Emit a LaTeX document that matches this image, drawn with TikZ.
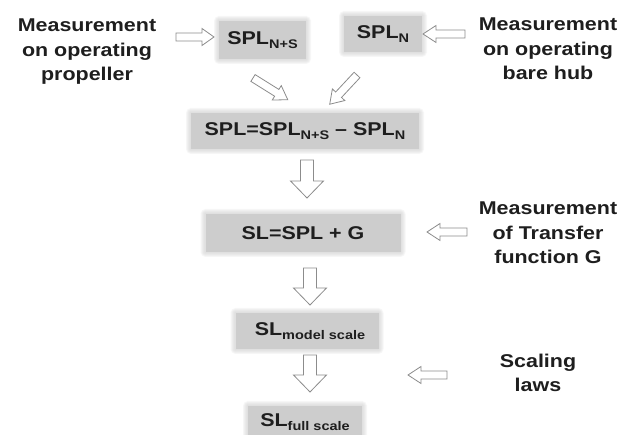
\documentclass[tikz,border=0pt]{standalone}
\usepackage{fontspec}
\setmainfont{Liberation Sans}[FakeStretch=1.16]
\definecolor{boxgray}{HTML}{CDCDCD}
\definecolor{arrowgray}{HTML}{8C8C8C}
\definecolor{ink}{HTML}{1E1E1E}
\pgfdeclarelayer{background}
\pgfsetlayers{background,main}
\newcommand\sub[1]{\raisebox{-0.22em}{\fontsize{12.5}{12.5}\selectfont #1}}
\newcommand\blockarrow[6]{%
  \draw[hollowarrow, shift={(#1)}, rotate=#2]
    (0,-#5) -- ({#3-#6},-#5) -- ({#3-#6},-#4) -- (#3,0) -- ({#3-#6},#4)
    -- ({#3-#6},#5) -- (0,#5) -- cycle;}
\newcommand\softedge[1]{%
  \begin{pgfonlayer}{background}
  \foreach \i in {1,2,3,4,5}{
    \fill[boxgray, opacity=0.16, rounded corners=\i]
      ([shift={(-\i,-\i)}]#1.south west) rectangle ([shift={(\i,\i)}]#1.north east);}
  \end{pgfonlayer}}
\begin{document}
\begin{tikzpicture}[x=1pt,y=1pt,
  every node/.style={text=ink, font=\fontsize{18.5}{24.5}\selectfont\bfseries},
  label3/.style={align=center, inner sep=0pt},
  graybox/.style={fill=boxgray, inner sep=0pt, outer sep=0pt},
  hollowarrow/.style={draw=arrowgray, fill=white, line width=0.8pt, line join=miter}]
\begin{pgfonlayer}{background}
\fill[white] (0,0) rectangle (632,435);
\end{pgfonlayer}
\useasboundingbox (0,0) rectangle (632,435);

% text blocks
\node[label3] (mprop) at (87,383) {Measurement\\on operating\\propeller};
\node[label3] (mhub) at (548,386) {Measurement\\on operating\\bare hub};
\node[label3] (mtf) at (548,202) {Measurement\\of Transfer\\function G};
\node[label3] (scal) at (538,62) {Scaling\\laws};

% gray boxes
\node[graybox, minimum width=87, minimum height=38] (nps) at (262.5,395) {};
\node at (nps) {SPL\sub{N+S}};
\node[graybox, minimum width=78, minimum height=36] (nn) at (383,401) {};
\node at (nn) {SPL\sub{N}};
\node[graybox, minimum width=228, minimum height=36] (diff) at (305,304) {};
\node at (diff) {SPL=SPL\sub{N+S} -- SPL\sub{N}};
\node[graybox, minimum width=195, minimum height=38] (slg) at (303,202) {};
\node at (slg) {SL=SPL + G};
\node[graybox, minimum width=143, minimum height=36] (slm) at (307,104) {};
\node at ([xshift=3]slm.center) {SL\sub{model scale}};
\node[graybox, minimum width=114, minimum height=34] (slf) at (305,12) {};
\node at ([yshift=1]slf.center) {SL\sub{full scale}};
\softedge{nps}\softedge{nn}\softedge{diff}\softedge{slg}\softedge{slm}\softedge{slf}

% arrow anchor coordinates
\coordinate (a1) at (176,398);
\coordinate (a2) at (465,401);
\coordinate (a3) at (253,357);
\coordinate (a4) at (357,360);
\coordinate (a5) at (307,275);
\coordinate (a6) at (467,203);
\coordinate (a7) at (310,167);
\coordinate (a8) at (310,80);
\coordinate (a9) at (447,60);

% hollow block arrows
\blockarrow{a1}{0}{38}{8.5}{4}{12}
\blockarrow{a2}{180}{42}{8.5}{4}{13}
\blockarrow{a3}{-32}{41}{8.5}{4}{13}
\blockarrow{a4}{-133}{40}{8.5}{4}{13}
\blockarrow{a5}{-90}{38}{16.5}{6.5}{17}
\blockarrow{a6}{180}{40}{8.5}{4}{13}
\blockarrow{a7}{-90}{37}{16.5}{6.5}{17}
\blockarrow{a8}{-90}{37}{16.5}{6.5}{17}
\blockarrow{a9}{180}{39}{8.5}{4}{13}
\end{tikzpicture}
\end{document}
